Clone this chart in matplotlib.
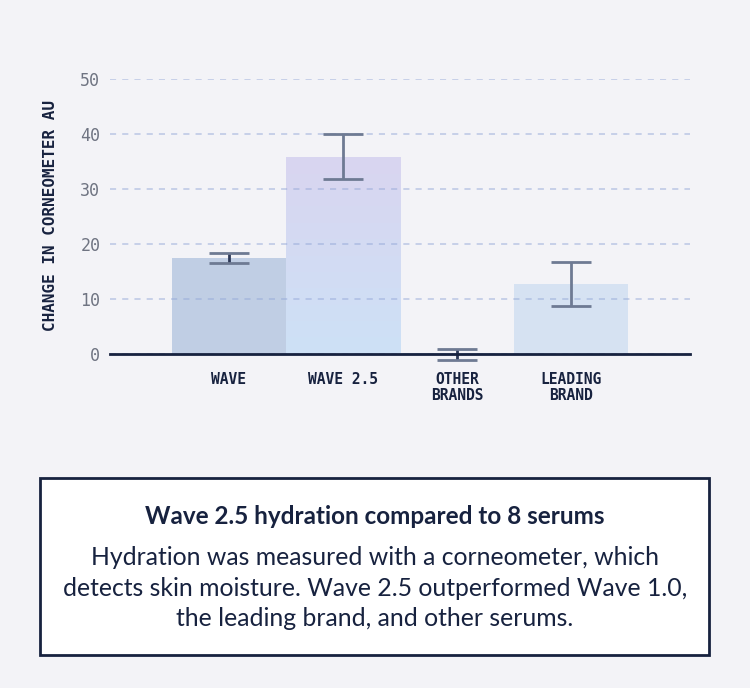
import numpy as np
import matplotlib
matplotlib.use('Agg')
import matplotlib.pyplot as plt
from matplotlib.patches import Rectangle
from matplotlib.colors import LinearSegmentedColormap

# data
categories = ['WAVE', 'WAVE 2.5', 'OTHER\nBRANDS', 'LEADING\nBRAND']
values = [17.5, 35.8, 0.2, 12.7]
err_low = [16.6, 31.8, -1.0, 8.7]
err_high = [18.4, 40.0, 0.9, 16.8]
yticks = [0, 10, 20, 30, 40, 50]

bar_colors = ['#c0cee4', '#d3dcf3', '#c9d6ec', '#d6e2f2']
navy = '#17223f'
bg = '#f3f3f7'
mono = 'DejaVu Sans Mono'

fig = plt.figure(figsize=(7.5, 6.88), dpi=100, facecolor=bg)
ax = fig.add_axes([110 / 750, 1 - 354 / 688, 580 / 750, 275 / 688])
ax.set_facecolor(bg)

x = np.arange(len(categories))
bars = ax.bar(x, values, width=1.0, color=bar_colors, zorder=1)

# gradient for Wave 2.5
b = bars[1]
grad = np.linspace(0, 1, 256).reshape(-1, 1)
cmap = LinearSegmentedColormap.from_list('g', ['#cde1f6', '#d9d5f0'])
im = ax.imshow(grad, cmap=cmap, aspect='auto', origin='lower',
               extent=[b.get_x(), b.get_x() + b.get_width(), 0, b.get_height()],
               zorder=1)
im.set_clip_path(b)

# error bars
for i in range(len(categories)):
    lo, hi = err_low[i], err_high[i]
    ax.plot([x[i], x[i]], [lo, hi], color='#6e7a93' if i in (1, 3) else '#2c3857',
            lw=2, zorder=4, clip_on=False, solid_capstyle='butt')
    for yy in (lo, hi):
        ax.plot([x[i] - 0.175, x[i] + 0.175], [yy, yy], color='#6e7a93', lw=2,
                zorder=4, clip_on=False, solid_capstyle='butt')

ax.set_xlim(-1.04, 4.04)
ax.set_ylim(0, 50)
ax.set_yticks(yticks)
ax.yaxis.grid(True, linestyle=(0, (4, 4)), color='#94a8d8', lw=1.1, alpha=0.6, zorder=2)
ax.set_axisbelow(False)
for s in ['top', 'right', 'left']:
    ax.spines[s].set_visible(False)
ax.spines['bottom'].set_color(navy)
ax.spines['bottom'].set_linewidth(2)
ax.spines['bottom'].set_zorder(5)

ax.tick_params(axis='y', length=0, pad=7, labelsize=12, labelcolor='#6f7482')
ax.tick_params(axis='x', length=0, pad=13)
ax.set_xticks(x)
ax.set_xticklabels(categories, fontfamily=mono, fontweight='bold',
                   fontsize=10.5, color=navy, linespacing=1.05)
for lab in ax.get_yticklabels():
    lab.set_fontfamily(mono)
    lab.set_fontweight('light')

ax.set_ylabel('CHANGE IN CORNEOMETER AU', fontfamily=mono,
              fontweight='bold', fontsize=11.5, color=navy)
ax.yaxis.set_label_coords(-0.0905, 0.505)

# caption box
box = Rectangle((40 / 750, 1 - 655 / 688), 669 / 750, 177 / 688,
                transform=fig.transFigure, facecolor='white', edgecolor=navy, lw=2)
fig.patches.append(box)
fig.text(375 / 750, 1 - 517 / 688, 'Wave 2.5 hydration compared to 8 serums',
         ha='center', va='center', fontfamily='Lato', fontweight='bold',
         fontsize=17.5, color=navy)
fig.text(375 / 750, 1 - 588 / 688,
         'Hydration was measured with a corneometer, which\n'
         'detects skin moisture. Wave 2.5 outperformed Wave 1.0,\n'
         'the leading brand, and other serums.',
         ha='center', va='center', fontfamily='Lato', fontsize=17.8,
         color=navy, linespacing=1.4)

fig.savefig('out.png', dpi=100, facecolor=bg)
